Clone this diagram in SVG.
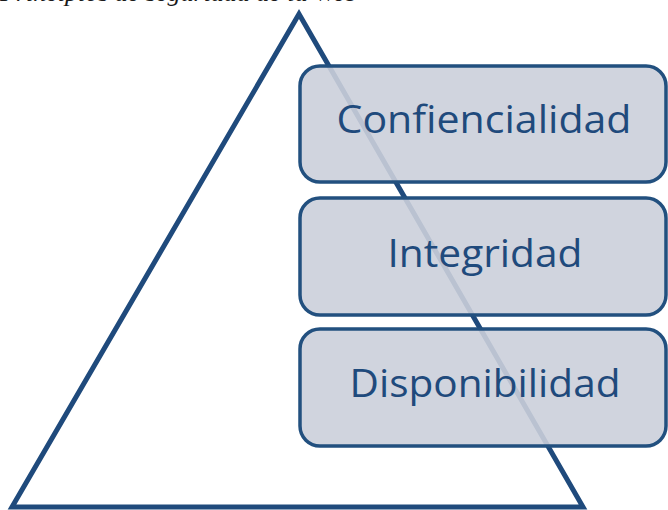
<svg xmlns="http://www.w3.org/2000/svg" width="668" height="510" viewBox="0 0 668 510">
  <style>
    .box { fill: rgb(203,207,218); fill-opacity: 0.9; stroke: #22507f; stroke-width: 3.5; }
    .lbl { font-family: "Open Sans", "Noto Sans", "Liberation Sans", sans-serif; font-size: 38px; fill: #1f4a7c; text-anchor: middle; }
    .cap { font-family: "Liberation Serif", "Times New Roman", serif; font-style: italic; font-size: 26px; fill: #1a1a1a; }
  </style>
  <rect x="0" y="0" width="668" height="510" fill="#ffffff"/>
  <text class="cap" x="0" y="1">Principios de seguridad de la Web</text>
  <g id="pyramid">
    <polygon points="299,14 12,507 583,507" fill="none" stroke="#1f4a7c" stroke-width="5" stroke-linejoin="miter"/>
  </g>
  <g id="confidencialidad">
    <rect class="box" x="300" y="66" width="366" height="116" rx="20" ry="20"/>
    <text class="lbl" x="484" y="133" textLength="295" lengthAdjust="spacingAndGlyphs">Confiencialidad</text>
  </g>
  <g id="integridad">
    <rect class="box" x="300" y="198" width="366" height="117" rx="20" ry="20"/>
    <text class="lbl" x="485" y="267" textLength="195" lengthAdjust="spacingAndGlyphs">Integridad</text>
  </g>
  <g id="disponibilidad">
    <rect class="box" x="300" y="329" width="366" height="117" rx="20" ry="20"/>
    <text class="lbl" x="485" y="397" textLength="271" lengthAdjust="spacingAndGlyphs">Disponibilidad</text>
  </g>
</svg>
